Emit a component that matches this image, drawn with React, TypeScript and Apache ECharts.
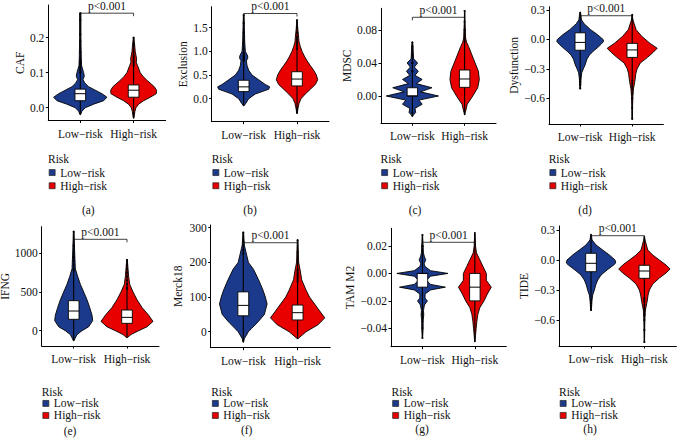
import React, { useEffect, useRef } from 'react';
import * as echarts from 'echarts';

const FONT = "'Liberation Serif', 'Times New Roman', serif";
const INK = '#111';
const LOW_COLOR = '#1B3A8C';
const HIGH_COLOR = '#E80000';

// ---------- data ----------
const GROUPS = ['Low−risk', 'High−risk'];
const LEGEND_TITLE = 'Risk';
const P_LABEL = 'p<0.001';
const PANEL_LABELS = ['(a)', '(b)', '(c)', '(d)', '(e)', '(f)', '(g)', '(h)'];
const Y_TITLES = ['CAF', 'Exclusion', 'MDSC', 'Dysfunction', 'IFNG', 'Merck18', 'TAM M2', 'TIDE'];
const Y_TICKS = [
  [0, 0.1, 0.2],
  [0, 0.5, 1, 1.5],
  [0, 0.04, 0.08],
  [-0.6, -0.3, 0, 0.3],
  [0, 500, 1000],
  [0, 100, 200, 300],
  [-0.04, -0.02, 0, 0.02],
  [-0.6, -0.3, 0, 0.3],
];
const Y_TICK_LABELS = [
  ['0.0', '0.1', '0.2'],
  ['0.0', '0.5', '1.0', '1.5'],
  ['0.00', '0.04', '0.08'],
  ['−0.6', '−0.3', '0.0', '0.3'],
  ['0', '500', '1000'],
  ['0', '100', '200', '300'],
  ['−0.04', '−0.02', '0.00', '0.02'],
  ['−0.6', '−0.3', '0.0', '0.3'],
];
const BRACKET_Y = [0.27, 1.8, 0.0954, 0.242, 1181, 256.7, 0.0227, 0.243];

// violin profiles: [value, half-width in category units], top to bottom
const CAF_LOW = [[0.27, 0.012], [0.2, 0.012], [0.14, 0.019], [0.12, 0.025], [0.1, 0.063], [0.09, 0.075], [0.08, 0.05], [0.07, 0.088], [0.06, 0.156], [0.05, 0.281], [0.04, 0.406], [0.03, 0.5], [0.02, 0.438], [0.01, 0.25], [0, 0.094], [-0.01, 0.031], [-0.02, 0.006]];
const CAF_HIGH = [[0.2, 0.006], [0.18, 0.019], [0.16, 0.031], [0.14, 0.056], [0.13, 0.05], [0.12, 0.075], [0.1, 0.125], [0.09, 0.175], [0.08, 0.238], [0.07, 0.313], [0.06, 0.388], [0.05, 0.43], [0.04, 0.425], [0.03, 0.313], [0.02, 0.188], [0.01, 0.094], [0, 0.044], [-0.01, 0.025], [-0.03, 0.006]];
const EXCL_LOW = [[1.77, 0.006], [1.5, 0.013], [1.2, 0.019], [1.0, 0.031], [0.9, 0.075], [0.85, 0.075], [0.8, 0.05], [0.7, 0.063], [0.6, 0.094], [0.5, 0.156], [0.4, 0.281], [0.3, 0.406], [0.25, 0.488], [0.2, 0.469], [0.15, 0.344], [0.1, 0.219], [0, 0.094], [-0.1, 0.038], [-0.15, 0.006]];
const EXCL_HIGH = [[1.66, 0.006], [1.5, 0.013], [1.3, 0.031], [1.2, 0.038], [1.1, 0.063], [1.0, 0.094], [0.9, 0.138], [0.8, 0.188], [0.7, 0.25], [0.6, 0.313], [0.5, 0.363], [0.4, 0.388], [0.3, 0.344], [0.2, 0.25], [0.1, 0.156], [0, 0.075], [-0.1, 0.038], [-0.2, 0.019], [-0.3, 0.006]];
const MDSC_LOW = [[0.065, 0.006], [0.06, 0.013], [0.05, 0.019], [0.045, 0.025], [0.04, 0.1], [0.035, 0.038], [0.03, 0.113], [0.025, 0.05], [0.02, 0.188], [0.015, 0.075], [0.01, 0.375], [0.005, 0.156], [0, 0.5], [-0.005, 0.125], [-0.01, 0.188], [-0.015, 0.05], [-0.02, 0.063], [-0.024, 0.006]];
const MDSC_HIGH = [[0.103, 0.003], [0.09, 0.006], [0.08, 0.013], [0.07, 0.019], [0.065, 0.038], [0.06, 0.075], [0.05, 0.138], [0.04, 0.2], [0.03, 0.263], [0.02, 0.281], [0.01, 0.25], [0, 0.156], [-0.01, 0.05], [-0.02, 0.013], [-0.023, 0.003]];
const DYS_LOW = [[0.28, 0.006], [0.2, 0.025], [0.16, 0.075], [0.1, 0.2], [0.05, 0.33], [0, 0.44], [-0.02, 0.45], [-0.05, 0.4], [-0.08, 0.34], [-0.12, 0.25], [-0.16, 0.175], [-0.2, 0.13], [-0.26, 0.094], [-0.3, 0.06], [-0.34, 0.03], [-0.4, 0.016], [-0.5, 0.006]];
const DYS_HIGH = [[0.25, 0.003], [0.2, 0.013], [0.1, 0.075], [0.03, 0.188], [-0.04, 0.344], [-0.09, 0.481], [-0.13, 0.406], [-0.18, 0.3], [-0.24, 0.156], [-0.3, 0.094], [-0.35, 0.069], [-0.43, 0.05], [-0.5, 0.025], [-0.58, 0.013], [-0.7, 0.006], [-0.81, 0.003]];
const IFNG_LOW = [[1280, 0.006], [1000, 0.019], [800, 0.031], [700, 0.075], [600, 0.125], [500, 0.188], [400, 0.25], [300, 0.3], [200, 0.344], [130, 0.356], [50, 0.281], [0, 0.156], [-50, 0.063], [-100, 0.025], [-130, 0.006]];
const IFNG_HIGH = [[914, 0.006], [800, 0.019], [700, 0.031], [600, 0.05], [500, 0.113], [400, 0.188], [300, 0.281], [200, 0.406], [120, 0.488], [50, 0.375], [0, 0.219], [-50, 0.075], [-90, 0.006]];
const MERCK_LOW = [[286, 0.006], [250, 0.019], [200, 0.094], [180, 0.188], [150, 0.281], [120, 0.363], [100, 0.406], [80, 0.438], [50, 0.388], [30, 0.281], [10, 0.156], [0, 0.094], [-20, 0.019], [-30, 0.006]];
const MERCK_HIGH = [[264, 0.006], [200, 0.019], [175, 0.05], [150, 0.075], [120, 0.156], [100, 0.219], [80, 0.313], [60, 0.406], [40, 0.5], [20, 0.375], [0, 0.156], [-20, 0.006]];
const TAM_LOW = [[0.028, 0.003], [0.02, 0.013], [0.015, 0.019], [0.012, 0.038], [0.01, 0.063], [0.007, 0.031], [0.005, 0.05], [0.002, 0.156], [0, 0.488], [-0.002, 0.156], [-0.005, 0.075], [-0.008, 0.156], [-0.01, 0.438], [-0.012, 0.156], [-0.015, 0.05], [-0.018, 0.05], [-0.02, 0.094], [-0.023, 0.038], [-0.027, 0.019], [-0.03, 0.025], [-0.035, 0.013], [-0.04, 0.013], [-0.047, 0.003]];
const TAM_HIGH = [[0.03, 0.003], [0.02, 0.013], [0.015, 0.031], [0.01, 0.094], [0.005, 0.156], [0, 0.219], [-0.005, 0.219], [-0.01, 0.313], [-0.015, 0.238], [-0.02, 0.175], [-0.025, 0.094], [-0.03, 0.056], [-0.035, 0.038], [-0.04, 0.025], [-0.045, 0.013], [-0.05, 0.003]];
const TIDE_LOW = [[0.257, 0.006], [0.2, 0.019], [0.15, 0.094], [0.1, 0.219], [0.05, 0.344], [0, 0.45], [-0.03, 0.463], [-0.05, 0.425], [-0.1, 0.3], [-0.15, 0.188], [-0.2, 0.125], [-0.25, 0.088], [-0.3, 0.063], [-0.35, 0.031], [-0.4, 0.019], [-0.5, 0.006]];
const TIDE_HIGH = [[0.24, 0.003], [0.2, 0.013], [0.1, 0.063], [0.05, 0.156], [0, 0.281], [-0.05, 0.406], [-0.09, 0.481], [-0.13, 0.406], [-0.18, 0.281], [-0.24, 0.156], [-0.3, 0.094], [-0.35, 0.069], [-0.4, 0.056], [-0.45, 0.038], [-0.5, 0.019], [-0.6, 0.009], [-0.7, 0.006], [-0.82, 0.003]];

const LOW_VIOLINS = [CAF_LOW, EXCL_LOW, MDSC_LOW, DYS_LOW, IFNG_LOW, MERCK_LOW, TAM_LOW, TIDE_LOW];
const HIGH_VIOLINS = [CAF_HIGH, EXCL_HIGH, MDSC_HIGH, DYS_HIGH, IFNG_HIGH, MERCK_HIGH, TAM_HIGH, TIDE_HIGH];

// box stats: [Q1, median, Q3]
const LOW_BOX = [[0.02, 0.04, 0.053], [0.15, 0.25, 0.39], [0, 0, 0.01], [-0.11, -0.03, 0.068], [147, 254, 388], [46, 76, 115], [-0.01, 0, 0], [-0.117, -0.033, 0.067]];
const HIGH_BOX = [[0.03, 0.05, 0.065], [0.27, 0.415, 0.57], [0.0105, 0.0206, 0.0315], [-0.183, -0.107, -0.04], [95, 172, 267], [34, 55, 77], [-0.02, -0.01, 0], [-0.183, -0.11, -0.053]];

// boxplot outliers (estimated)
const LOW_OUTLIERS = [
  [0.27, 0.25, 0.21, 0.19, 0.16, 0.14, 0.135, 0.13, 0.125, 0.12, 0.115, 0.11, 0.105, 0.1],
  [1.77, 1.6, 1.4, 1.2, 1.05, 0.98, 0.95, 0.92, 0.9, 0.88, 0.86, 0.84, 0.82, 0.8],
  [0.065, 0.06, 0.05, 0.04, 0.04, 0.03, 0.03, -0.02, -0.024],
  [-0.4, -0.43, -0.46, -0.5],
  [1280, 1100, 1000, 950, 900, 850, 800, 780],
  [286, 260, 250, 235, 225],
  [0.028, 0.02, 0.02, -0.03, -0.035, -0.04, -0.047],
  [-0.4, -0.43, -0.46, -0.5],
];
const HIGH_OUTLIERS = [
  [0.2, 0.18, 0.16, 0.15, 0.145, 0.14, 0.135, 0.13, 0.125, 0.12],
  [1.66, 1.5, 1.4, 1.3, 1.25, 1.2, 1.15, 1.1, 1.05, -0.2, -0.25, -0.3],
  [0.103, 0.09, 0.08, 0.07, 0.066],
  [0.25, 0.2, -0.42, -0.45, -0.48, -0.5, -0.55, -0.6, -0.7, -0.81],
  [914, 850, 800, 750, 700, 650, 600, 560, 540],
  [264, 230, 200, 180, 175, 170, 165, 160, 155, 150, 145],
  [],
  [-0.38, -0.4, -0.42, -0.45, -0.48, -0.5, -0.55, -0.6, -0.7, -0.82],
];

// ---------- layout ----------
type Layout = {
  grid: [number, number, number, number];
  y: [number, number];
  nameGap: number;
  legend: [number, number, number, number];
  caption: [number, number];
};
const LAYOUT: Layout[] = [
  { grid: [48.3, 5, 117.3, 115.5], y: [-0.0366, 0.2934], nameGap: 22.5, legend: [48, 158.5, 172.3, 12.7], caption: [88.3, 210] },
  { grid: [211.7, 6.7, 117.3, 115], y: [-0.486, 1.944], nameGap: 20.5, legend: [211.7, 158.5, 172.3, 12.7], caption: [250, 209.5] },
  { grid: [381, 8.3, 115, 115], y: [-0.0331, 0.1063], nameGap: 26, legend: [380.5, 158.5, 172.3, 12.7], caption: [415, 209.5] },
  { grid: [549, 6.7, 114.4, 117.3], y: [-0.862, 0.334], nameGap: 28, legend: [548.7, 158.5, 172.3, 12.7], caption: [585, 209.5] },
  { grid: [41.7, 226.7, 117.3, 119.3], y: [-198, 1344], nameGap: 20.5, legend: [41.7, 392, 402.7, 10.5], caption: [70, 431] },
  { grid: [210.7, 225, 119.5, 122.7], y: [-46, 307.8], nameGap: 26.5, legend: [211.2, 392, 402.7, 10.5], caption: [246.7, 430] },
  { grid: [391, 228.3, 115.3, 118.4], y: [-0.0534, 0.0329], nameGap: 35, legend: [391.5, 392, 402.7, 10.5], caption: [422, 429] },
  { grid: [559, 226, 117.4, 120], y: [-0.86, 0.34], nameGap: 28, legend: [559, 392, 402.7, 10.5], caption: [590, 429] },
];

const BOX_HALF = 0.1;

function violinRenderer(profile: number[][], box: number[], outliers: number[], color: string) {
  return (params: any, api: any) => {
    const cx = api.value(0);
    const left = profile.map(([v, w]) => api.coord([cx - w, v]));
    const right = profile.slice().reverse().map(([v, w]) => api.coord([cx + w, v]));
    const top = api.coord([cx, profile[0][0]]);
    const bot = api.coord([cx, profile[profile.length - 1][0]]);
    const bl = api.coord([cx - BOX_HALF, box[0]]);
    const tr = api.coord([cx + BOX_HALF, box[2]]);
    const ml = api.coord([cx - BOX_HALF, box[1]]);
    const mr = api.coord([cx + BOX_HALF, box[1]]);
    const dots = outliers.map((v) => {
      const p = api.coord([cx, v]);
      return { type: 'circle', shape: { cx: p[0], cy: p[1], r: 1.1 }, style: { fill: '#000' } };
    });
    return {
      type: 'group',
      children: [
        { type: 'polygon', shape: { points: [...left, ...right] }, style: { fill: color, stroke: '#000', lineWidth: 0.9 } },
        { type: 'line', shape: { x1: top[0], y1: top[1], x2: bot[0], y2: bot[1] }, style: { stroke: '#000', lineWidth: 1.1 } },
        ...dots,
        { type: 'rect', shape: { x: bl[0], y: tr[1], width: tr[0] - bl[0], height: bl[1] - tr[1] }, style: { fill: '#fff', stroke: '#000', lineWidth: 0.9 } },
        { type: 'line', shape: { x1: ml[0], y1: ml[1], x2: mr[0], y2: mr[1] }, style: { stroke: '#000', lineWidth: 1 } },
      ],
    };
  };
}

function bracketRenderer(params: any, api: any) {
  const y = api.value(2);
  const p1 = api.coord([api.value(0), y]);
  const p2 = api.coord([api.value(1), y]);
  const tip = 3;
  return {
    type: 'group',
    children: [
      {
        type: 'polyline',
        shape: { points: [[p1[0], p1[1] + tip], [p1[0], p1[1]], [p2[0], p2[1]], [p2[0], p2[1] + tip]] },
        style: { stroke: INK, lineWidth: 0.8, fill: 'none' },
      },
      {
        type: 'text',
        x: (p1[0] + p2[0]) / 2,
        y: p1[1] - 1.5,
        style: { text: P_LABEL, align: 'center', verticalAlign: 'bottom', fontSize: 11.5, fontFamily: FONT, fill: INK },
      },
    ],
  };
}

function buildOption() {
  const grid: any[] = [];
  const xAxis: any[] = [];
  const yAxis: any[] = [];
  const series: any[] = [];
  const legend: any[] = [];
  const graphic: any[] = [];
  const textStyle = { fontSize: 11.5, fontFamily: FONT, color: INK };

  LAYOUT.forEach((L, i) => {
    grid.push({ left: L.grid[0], top: L.grid[1], width: L.grid[2], height: L.grid[3], containLabel: false, outerBoundsMode: 'none' });
    xAxis.push({
      gridIndex: i, type: 'value', min: 0.4, max: 2.6,
      axisLine: { show: true, onZero: false, lineStyle: { color: '#000', width: 1 } },
      axisTick: { show: true, length: 2.5, customValues: [1, 2], lineStyle: { color: '#000' } },
      axisLabel: { show: true, customValues: [1, 2], margin: 7, formatter: (v: number) => GROUPS[Math.round(v) - 1], ...textStyle },
      splitLine: { show: false },
    });
    const ticks = Y_TICKS[i];
    const labels = Y_TICK_LABELS[i];
    yAxis.push({
      gridIndex: i, type: 'value', min: L.y[0], max: L.y[1],
      name: Y_TITLES[i], nameLocation: 'middle', nameGap: L.nameGap, nameTextStyle: { ...textStyle },
      axisLine: { show: true, onZero: false, lineStyle: { color: '#000', width: 1 } },
      axisTick: { show: true, length: 2.5, customValues: ticks, lineStyle: { color: '#000' } },
      axisLabel: {
        show: true, customValues: ticks, margin: 4,
        formatter: (v: number) => {
          const k = ticks.findIndex((t) => Math.abs(t - v) < 1e-9 * Math.max(1, Math.abs(t)) + 1e-12);
          return k >= 0 ? labels[k] : '';
        },
        ...textStyle,
      },
      splitLine: { show: false },
    });
    series.push({
      type: 'custom', name: GROUPS[0], xAxisIndex: i, yAxisIndex: i, silent: true,
      itemStyle: { color: LOW_COLOR },
      data: [[1, LOW_BOX[i][1]]], encode: { x: 0, y: 1 },
      renderItem: violinRenderer(LOW_VIOLINS[i], LOW_BOX[i], LOW_OUTLIERS[i], LOW_COLOR),
    });
    series.push({
      type: 'custom', name: GROUPS[1], xAxisIndex: i, yAxisIndex: i, silent: true,
      itemStyle: { color: HIGH_COLOR },
      data: [[2, HIGH_BOX[i][1]]], encode: { x: 0, y: 1 },
      renderItem: violinRenderer(HIGH_VIOLINS[i], HIGH_BOX[i], HIGH_OUTLIERS[i], HIGH_COLOR),
    });
    series.push({
      type: 'custom', name: 'signif' + i, xAxisIndex: i, yAxisIndex: i, silent: true,
      data: [[1, 2, BRACKET_Y[i]]], encode: { x: [0, 1], y: 2 },
      renderItem: bracketRenderer,
    });
    const lh = Math.min(11.5, L.legend[3]);
    legend.push({
      data: GROUPS, orient: 'vertical', left: L.legend[0] + 0.8, top: L.legend[2] - lh / 2,
      itemWidth: 6, itemHeight: 6, itemGap: L.legend[3] - lh, icon: 'rect', padding: 0,
      selectedMode: false,
      itemStyle: { borderColor: '#222', borderWidth: 0.7 },
      textStyle: { ...textStyle, lineHeight: lh },
    });
    graphic.push({
      type: 'text', x: L.legend[0], y: L.legend[1],
      style: { text: LEGEND_TITLE, align: 'left', verticalAlign: 'middle', textAlign: 'left', textVerticalAlign: 'middle', fontSize: 11.5, fontFamily: FONT, fill: INK },
    });
    graphic.push({
      type: 'text', x: L.caption[0], y: L.caption[1],
      style: { text: PANEL_LABELS[i], align: 'center', verticalAlign: 'middle', textAlign: 'center', textVerticalAlign: 'middle', fontSize: 11.5, fontFamily: FONT, fill: INK },
    });
  });

  return { animation: false, backgroundColor: '#fff', grid, xAxis, yAxis, series, legend, graphic };
}

export default function App() {
  const ref = useRef<HTMLDivElement>(null);
  useEffect(() => {
    if (!ref.current) return;
    const chart = echarts.init(ref.current, undefined, { renderer: 'svg' });
    chart.setOption(buildOption() as any);
    return () => chart.dispose();
  }, []);
  return <div ref={ref} style={{ position: 'absolute', left: 0, top: 0, width: 678, height: 438, background: '#fff' }} />;
}
